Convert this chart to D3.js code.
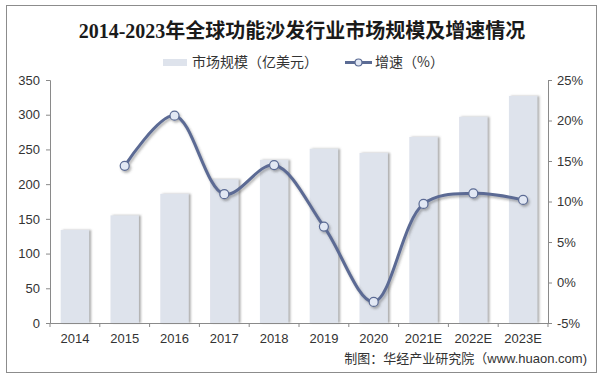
<!DOCTYPE html>
<html><head><meta charset="utf-8">
<script src="https://cdn.jsdelivr.net/npm/d3@7/dist/d3.min.js"></script>
<style>body{margin:0;background:#fff;}svg{display:block;}</style>
</head><body>
<script>
const categories = ["2014","2015","2016","2017","2018","2019","2020","2021E","2022E","2023E"];
const marketSize = [134,155,186,207,235,251,245,268,297,327];
const growth = [null,14.4,20.6,10.9,14.5,6.9,-2.4,9.7,11.0,10.2];
const leftTicks = [0,50,100,150,200,250,300,350];
const rightTicks = [-5,0,5,10,15,20,25];
const title = "2014-2023年全球功能沙发行业市场规模及增速情况";
const legendLabels = ["市场规模（亿美元）","增速（%）"];
const source = "制图：华经产业研究院（www.huaon.com)";

const W=603,H=379;
const svg=d3.select("body").append("svg").attr("width",W).attr("height",H);
const defs=svg.append("defs");
const f1=defs.append("filter").attr("id","barsh").attr("x","-20%").attr("y","-5%").attr("width","150%").attr("height","110%");
f1.append("feDropShadow").attr("dx",2).attr("dy",0).attr("stdDeviation",1).attr("flood-color","#666").attr("flood-opacity",0.55);
const f2=defs.append("filter").attr("id","linesh").attr("x","-10%").attr("y","-10%").attr("width","130%").attr("height","130%");
f2.append("feDropShadow").attr("dx",1.5).attr("dy",2).attr("stdDeviation",1.2).attr("flood-color","#444").attr("flood-opacity",0.4);

svg.append("rect").attr("x",6.5).attr("y",5.5).attr("width",590).attr("height",367).attr("fill","#fff").attr("stroke","#8c8c8c").attr("stroke-width",1);

const m={l:50,r:548,t:80,b:323};
const x=d3.scaleBand().domain(categories).range([m.l,m.r]).paddingInner(0.43).paddingOuter(0.215);
const xb=d3.scaleBand().domain(categories).range([m.l,m.r]);
const yL=d3.scaleLinear().domain([0,350]).range([m.b,m.t]);
const yR=d3.scaleLinear().domain([-5,25]).range([m.b,m.t]);

// title
svg.append("text").attr("x",302).attr("y",38).attr("text-anchor","middle")
  .attr("font-family","'Liberation Serif','Noto Sans CJK SC',serif").attr("font-weight","bold").attr("font-size",20).attr("fill","#1a1a1a").text(title);

// bars
svg.append("g").selectAll("rect").data(marketSize).join("rect")
  .attr("x",(d,i)=>x(categories[i])).attr("width",x.bandwidth())
  .attr("y",d=>yL(d)).attr("height",d=>yL(0)-yL(d))
  .attr("fill","#dee3ec").attr("filter","url(#barsh)");

const axisColor="#8a8a8a";
const font="'Liberation Sans',Arial,sans-serif";
// left axis
const gl=svg.append("g").attr("transform",`translate(${m.l},0)`)
  .call(d3.axisLeft(yL).tickValues(leftTicks).tickSize(4).tickPadding(6));
// right axis
const gr=svg.append("g").attr("transform",`translate(${m.r},0)`)
  .call(d3.axisRight(yR).tickValues(rightTicks).tickSize(4).tickPadding(5).tickFormat(d=>d+"%"));
// bottom axis
const gb=svg.append("g").attr("transform",`translate(0,${m.b})`)
  .call(d3.axisBottom(xb).tickSize(0).tickPadding(11));
gb.append("g").selectAll("line").data(categories.concat(["_end"])).join("line")
  .attr("x1",(d,i)=>m.l+i*xb.bandwidth()).attr("x2",(d,i)=>m.l+i*xb.bandwidth())
  .attr("y1",0).attr("y2",4).attr("stroke",axisColor);
[gl,gr,gb].forEach(g=>{
  g.selectAll("path.domain").attr("stroke",axisColor);
  g.selectAll(".tick line").attr("stroke",axisColor);
  g.selectAll("text").attr("font-family",font).attr("font-size",13).attr("fill","#333");
});

// line
const pts=growth.map((v,i)=>({v,c:categories[i]})).filter(d=>d.v!==null);
const cx=d=>xb(d.c)+xb.bandwidth()/2;
const line=d3.line().x(cx).y(d=>yR(d.v)).curve(d3.curveCatmullRom.alpha(0.5));
const lg=svg.append("g").attr("filter","url(#linesh)");
lg.append("path").attr("d",line(pts)).attr("fill","none").attr("stroke","#5b6b94").attr("stroke-width",3);
lg.selectAll("circle").data(pts).join("circle").attr("cx",cx).attr("cy",d=>yR(d.v)).attr("r",4.5)
  .attr("fill","#e2e8f4").attr("stroke","#5b6b94").attr("stroke-width",1.2);

// legend
const leg=svg.append("g");
leg.append("rect").attr("x",163).attr("y",59).attr("width",24).attr("height",7).attr("fill","#dee3ec");
leg.append("text").attr("x",192).attr("y",67).attr("font-family","'Noto Sans CJK SC',sans-serif").attr("font-size",14).attr("fill","#333").text(legendLabels[0]);
leg.append("line").attr("x1",345).attr("x2",372).attr("y1",62.5).attr("y2",62.5).attr("stroke","#5b6b94").attr("stroke-width",3);
leg.append("circle").attr("cx",358.5).attr("cy",62.5).attr("r",3.5).attr("fill","#e2e8f4").attr("stroke","#5b6b94").attr("stroke-width",1.2);
leg.append("text").attr("x",375).attr("y",67).attr("font-family","'Noto Sans CJK SC',sans-serif").attr("font-size",14).attr("fill","#333").text(legendLabels[1]);

// source
svg.append("text").attr("x",587).attr("y",363).attr("text-anchor","end")
  .attr("font-family","'Liberation Sans','Noto Sans CJK SC',sans-serif").attr("font-size",13).attr("fill","#333").text(source);
</script>
</body></html>
